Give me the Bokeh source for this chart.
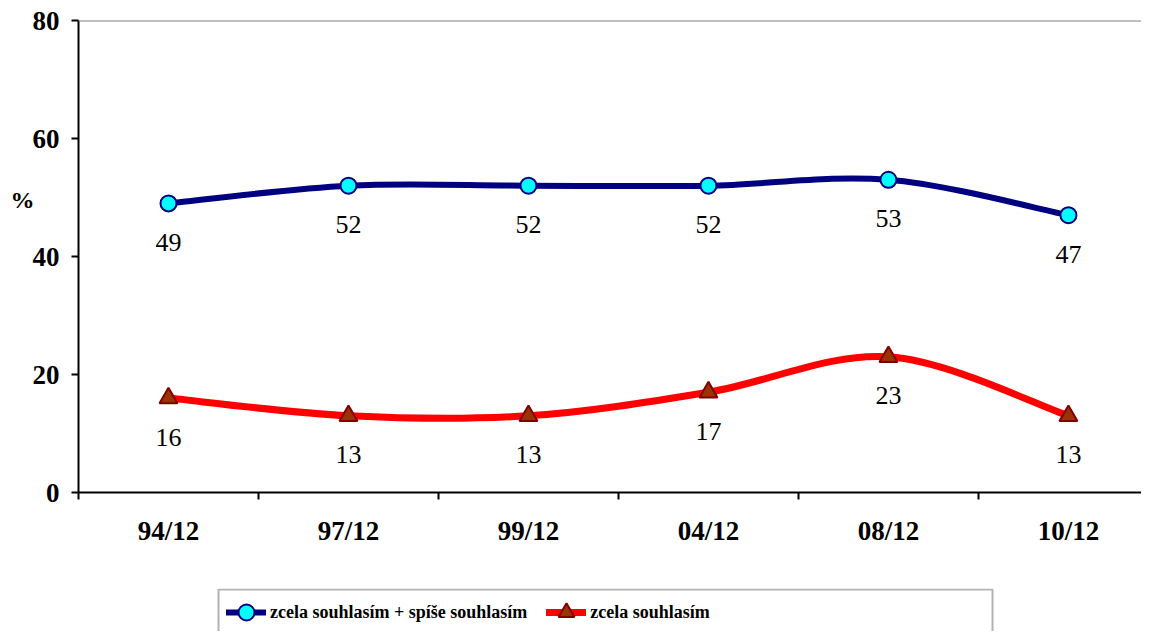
from bokeh.plotting import figure
from bokeh.layouts import column
from bokeh.models import (Range1d, FixedTicker, Span, Legend, LegendItem, LinearAxis,
                          BoxAnnotation, ColumnDataSource)
from bokeh.core.properties import value
from bokeh.embed import file_html
from bokeh.resources import INLINE

categories = ["94/12", "97/12", "99/12", "04/12", "08/12", "10/12"]
agree_total = [49, 52, 52, 52, 53, 47]
agree_fully = [16, 13, 13, 17, 23, 13]
series_names = ["zcela souhlasím + spíše souhlasím", "zcela souhlasím"]
y_ticks = [0, 20, 40, 60, 80]
y_title = "%"
y_title_pos = 49.5

SERIF = "Liberation Serif"
NAVY, CYAN, RED, BROWN, DARKRED = "#000080", "#00FFFF", "#FF0000", "#993300", "#800000"

p = figure(width=1141, height=588, x_range=Range1d(0, 5.906), y_range=Range1d(0, 80),
           output_backend="svg", toolbar_location=None,
           min_border_left=78, min_border_right=0, min_border_top=20, min_border_bottom=96)
p.grid.visible = False
p.outline_line_color = None
p.background_fill_color = "white"
p.border_fill_color = "white"

xs = [i + 0.5 for i in range(len(categories))]


def smooth(xv, yv):
    n = len(xv)
    d = {k: [] for k in ["x0", "y0", "x1", "y1", "cx0", "cy0", "cx1", "cy1"]}
    for i in range(n - 1):
        ip = max(i - 1, 0)
        inx = min(i + 2, n - 1)
        d["x0"].append(xv[i]); d["y0"].append(yv[i])
        d["x1"].append(xv[i + 1]); d["y1"].append(yv[i + 1])
        d["cx0"].append(xv[i] + (xv[i + 1] - xv[ip]) / 6)
        d["cy0"].append(yv[i] + (yv[i + 1] - yv[ip]) / 6)
        d["cx1"].append(xv[i + 1] - (xv[inx] - xv[i]) / 6)
        d["cy1"].append(yv[i + 1] - (yv[inx] - yv[i]) / 6)
    return ColumnDataSource(d)


BZ = dict(x0="x0", y0="y0", x1="x1", y1="y1", cx0="cx0", cy0="cy0", cx1="cx1", cy1="cy1")
LINE1 = dict(line_color=NAVY, line_width=6, line_cap="round")
LINE2 = dict(line_color=RED, line_width=7, line_cap="round")
MARK1 = dict(marker="circle", size=16, fill_color=CYAN, line_color=NAVY, line_width=2)
MARK2 = dict(marker="triangle", size=18, fill_color=BROWN, line_color=DARKRED, line_width=2)

p.bezier(**BZ, source=smooth(xs, agree_total), **LINE1)
p.bezier(**BZ, source=smooth(xs, agree_fully), **LINE2)
p.scatter(xs, agree_total, **MARK1)
p.scatter(xs, agree_fully, **MARK2)

for vals in (agree_total, agree_fully):
    p.text(x=xs, y=vals, text=[str(v) for v in vals], text_font=value(SERIF),
           text_font_size="26px", text_align="center", text_baseline="middle",
           y_offset=39, text_color="black")

# top border
p.add_layout(Span(location=80, dimension="width", line_color="#808080", line_width=2))

# y axis
p.yaxis.ticker = FixedTicker(ticks=y_ticks, minor_ticks=[])
p.yaxis.axis_line_width = 2
p.yaxis.axis_line_color = "black"
p.yaxis.major_tick_out = 7
p.yaxis.major_tick_in = 0
p.yaxis.major_tick_line_width = 2
p.yaxis.minor_tick_line_color = None
p.yaxis.major_label_standoff = 12
p.yaxis.major_label_text_font = SERIF
p.yaxis.major_label_text_font_style = "bold"
p.yaxis.major_label_text_font_size = "27px"
p.yaxis.major_label_text_color = "black"

# "%" title: a bare outer axis carrying one tick label at the title's height
pct_axis = LinearAxis(ticker=FixedTicker(ticks=[y_title_pos], minor_ticks=[]),
                      major_label_overrides={y_title_pos: y_title},
                      axis_line_color=None, major_tick_line_color=None,
                      minor_tick_line_color=None, major_tick_out=0, major_tick_in=0,
                      minor_tick_out=0, minor_tick_in=0, major_label_standoff=-5,
                      major_label_text_font=SERIF, major_label_text_font_style="bold",
                      major_label_text_font_size="24px", major_label_text_color="black")
p.add_layout(pct_axis, "left")

# x axis
p.xaxis.ticker = FixedTicker(ticks=xs, minor_ticks=list(range(len(categories) + 1)))
p.xaxis.major_label_overrides = {x: c for x, c in zip(xs, categories)}
p.xaxis.axis_line_width = 2
p.xaxis.axis_line_color = "black"
p.xaxis.major_tick_line_color = None
p.xaxis.major_tick_out = 0
p.xaxis.major_tick_in = 0
p.xaxis.minor_tick_out = 7
p.xaxis.minor_tick_in = 0
p.xaxis.minor_tick_line_width = 2
p.xaxis.minor_tick_line_color = "black"
p.xaxis.major_label_standoff = 16
p.xaxis.major_label_text_font = SERIF
p.xaxis.major_label_text_font_style = "bold"
p.xaxis.major_label_text_font_size = "27px"
p.xaxis.major_label_text_color = "black"

# legend strip: a second figure with the same side borders; its series are drawn
# out of view so that only their legend glyphs show
q = figure(width=1141, height=43, x_range=Range1d(0, 1063), y_range=Range1d(-43, 0),
           output_backend="svg", toolbar_location=None,
           x_axis_location=None, y_axis_location=None,
           min_border_left=78, min_border_right=0, min_border_top=0, min_border_bottom=0)
q.grid.visible = False
q.outline_line_color = None
q.background_fill_color = "white"
q.border_fill_color = "white"

lb1 = q.bezier(**BZ, source=smooth(xs, agree_total), **LINE1)
lb2 = q.bezier(**BZ, source=smooth(xs, agree_fully), **LINE2)
ls1 = q.scatter(xs, agree_total, **MARK1)
ls2 = q.scatter(xs, agree_fully, **MARK2)

q.add_layout(BoxAnnotation(left=140, right=914, top=-1, bottom=-100,
                           fill_alpha=0, line_color="black", line_width=2))

legend = Legend(items=[LegendItem(label=series_names[0], renderers=[lb1, ls1]),
                       LegendItem(label=series_names[1], renderers=[lb2, ls2])],
                orientation="horizontal", location=(148, -1),
                padding=0, margin=0, spacing=19, label_standoff=4,
                glyph_width=40, glyph_height=40,
                label_text_font=SERIF, label_text_font_style="bold",
                label_text_font_size="18px", label_text_color="black",
                background_fill_alpha=0, border_line_color=None)
q.add_layout(legend)

open("out.html", "w").write(file_html(column(p, q, spacing=0), INLINE))
